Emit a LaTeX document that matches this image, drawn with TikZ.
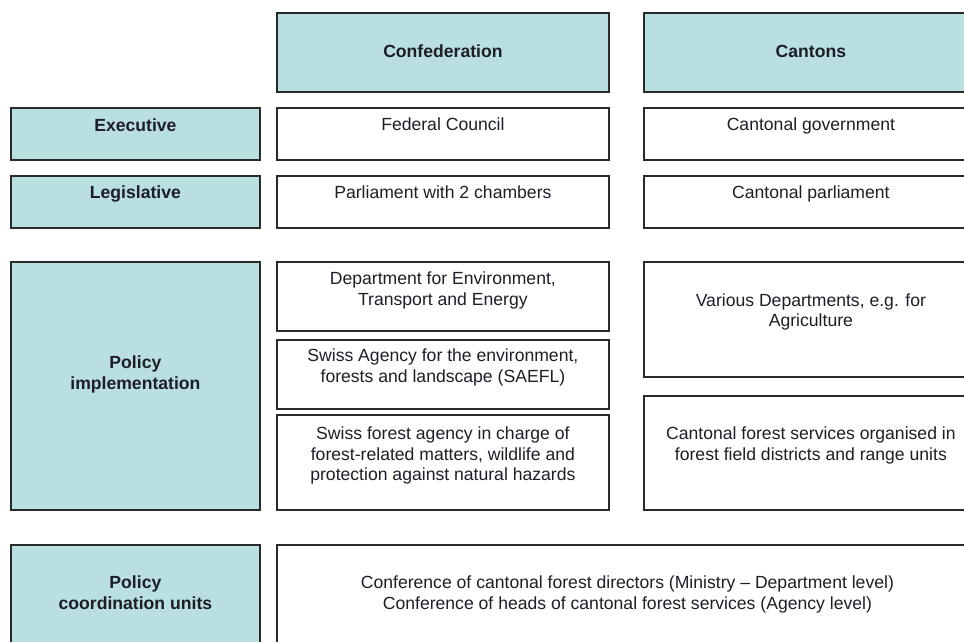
\documentclass[tikz,border=0pt]{standalone}
\usepackage{fontspec}
\setmainfont{Liberation Sans}
\definecolor{headfill}{HTML}{B9DFE1}
\definecolor{edge}{HTML}{2A2A2A}
\definecolor{ink}{HTML}{1E1E28}
\begin{document}
\begin{tikzpicture}[x=1pt,y=-1pt,
  cell/.style={draw=edge, line width=1.8pt, inner sep=0pt, anchor=north west},
  headcell/.style={cell, fill=headfill},
  bodycell/.style={cell, fill=white},
  lbl/.style={anchor=base, align=center, inner sep=0pt, text=ink,
    font=\fontsize{17.6}{20.5}\selectfont},
  blbl/.style={lbl, font=\fontsize{17.6}{20.5}\selectfont\bfseries}]
\useasboundingbox (0,0) rectangle (964,641);
\clip (0,0) rectangle (964,641);

% column headers
\node[headcell, minimum width=332pt, minimum height=79pt] (confed) at (276,12) {};
\node[headcell, minimum width=334pt, minimum height=79pt] (canton) at (643,12) {};

% executive row
\node[headcell, minimum width=249pt, minimum height=52pt] (exec) at (10,107) {};
\node[bodycell, minimum width=332pt, minimum height=52pt] (fedc) at (276,107) {};
\node[bodycell, minimum width=334pt, minimum height=52pt] (cgov) at (643,107) {};

% legislative row
\node[headcell, minimum width=249pt, minimum height=52pt] (legis) at (10,175) {};
\node[bodycell, minimum width=332pt, minimum height=52pt] (parl) at (276,175) {};
\node[bodycell, minimum width=334pt, minimum height=52pt] (cparl) at (643,175) {};

% policy implementation block
\node[headcell, minimum width=249pt, minimum height=248pt] (polimp) at (10,261) {};
\node[bodycell, minimum width=332pt, minimum height=69pt] (dept) at (276,261) {};
\node[bodycell, minimum width=332pt, minimum height=69pt] (saefl) at (276,339) {};
\node[bodycell, minimum width=332pt, minimum height=95pt] (sfa) at (276,414) {};
\node[bodycell, minimum width=334pt, minimum height=115pt] (various) at (643,261) {};
\node[bodycell, minimum width=334pt, minimum height=114pt] (cfs) at (643,395) {};

% coordination row
\node[headcell, minimum width=249pt, minimum height=116pt] (polcoord) at (10,544) {};
\node[bodycell, minimum width=701pt, minimum height=116pt] (conf) at (276,544) {};

% labels (the base anchor of a multi-line label sits on its last line)
\node[blbl] at ([yshift=-45.5pt]confed.north) {Confederation};
\node[blbl] at ([yshift=-45.5pt]canton.north) {Cantons};
\node[blbl] at ([yshift=-24.5pt]exec.north) {Executive};
\node[lbl]  at ([yshift=-23.5pt]fedc.north) {Federal Council};
\node[lbl]  at ([yshift=-23.5pt]cgov.north) {Cantonal government};
\node[blbl] at ([yshift=-23.5pt]legis.north) {Legislative};
\node[lbl]  at ([yshift=-23.5pt]parl.north) {Parliament with 2 chambers};
\node[lbl]  at ([yshift=-23.5pt]cparl.north) {Cantonal parliament};
\node[blbl] at ([yshift=-128pt]polimp.north) {Policy\\implementation};
\node[lbl]  at ([yshift=-44pt]dept.north) {Department for Environment,\\Transport and Energy};
\node[lbl]  at ([yshift=-43pt]saefl.north) {Swiss Agency for the environment,\\forests and landscape (SAEFL)};
\node[lbl]  at ([yshift=-66.5pt]sfa.north) {Swiss forest agency in charge of\\forest-related matters, wildlife and\\protection against natural hazards};
\node[lbl]  at ([yshift=-65.5pt]various.north) {Various Departments, e.g. for\\Agriculture};
\node[lbl]  at ([yshift=-65pt]cfs.north) {Cantonal forest services organised in\\forest field districts and range units};
\node[blbl] at ([yshift=-65pt]polcoord.north) {Policy\\coordination units};
\node[lbl]  at ([yshift=-65pt]conf.north) {Conference of cantonal forest directors (Ministry -- Department level)\\Conference of heads of cantonal forest services (Agency level)};
\end{tikzpicture}
\end{document}
